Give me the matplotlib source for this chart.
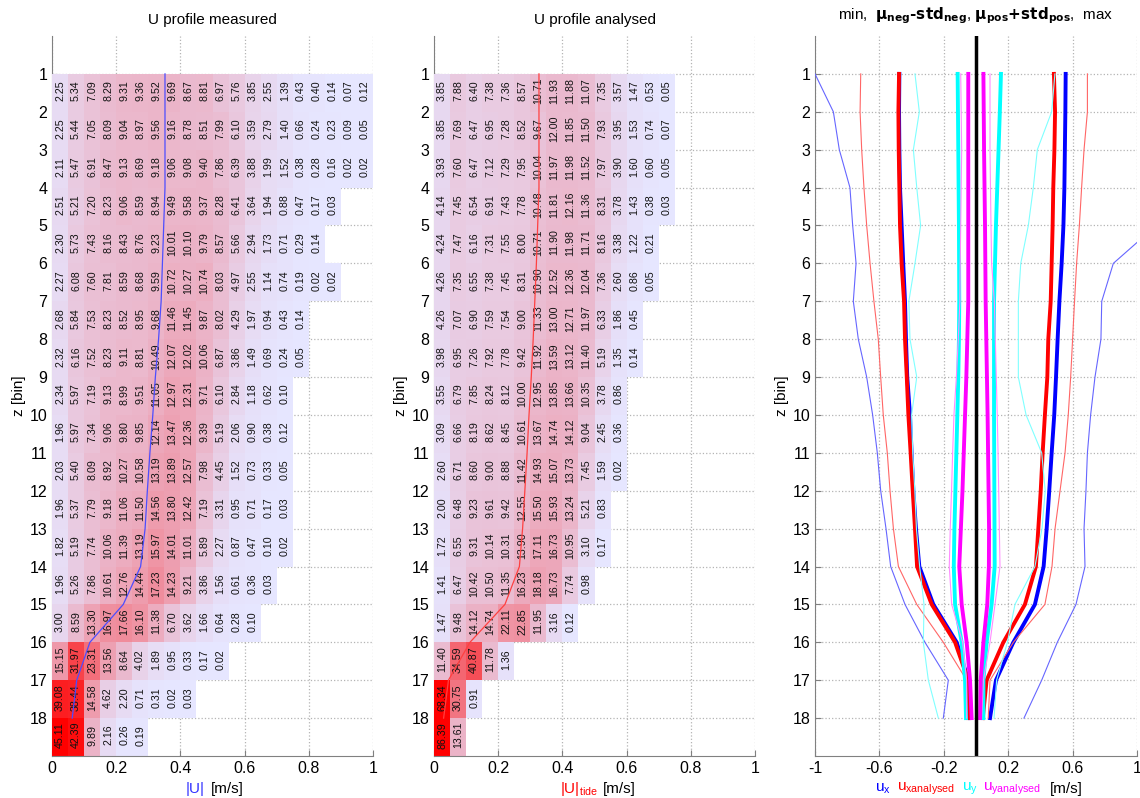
import matplotlib
matplotlib.use("Agg")
import matplotlib.pyplot as plt
import numpy as np
from matplotlib.colors import LinearSegmentedColormap

plt.rcParams["font.family"] = ["Liberation Sans", "DejaVu Sans"]

z_bins = np.arange(1, 19)
speed_edges = np.arange(0, 1.0001, 0.05)

# percentage of samples per |U| class (0.05 m/s) for each depth bin
pct_measured = [
    [2.25, 5.34, 7.09, 8.29, 9.31, 9.36, 9.52, 9.69, 8.67, 8.81, 6.97, 5.76, 3.85, 2.55, 1.39, 0.43, 0.40, 0.14, 0.07, 0.12],
    [2.25, 5.44, 7.05, 8.09, 9.04, 8.97, 9.56, 9.16, 8.78, 8.51, 7.99, 6.10, 3.59, 2.79, 1.40, 0.66, 0.24, 0.23, 0.09, 0.05],
    [2.11, 5.47, 6.91, 8.47, 9.13, 8.69, 9.18, 9.06, 9.08, 9.40, 7.86, 6.39, 3.88, 1.99, 1.52, 0.38, 0.28, 0.16, 0.02, 0.02],
    [2.51, 5.21, 7.20, 8.23, 9.06, 8.59, 8.94, 9.49, 9.58, 9.37, 8.28, 6.41, 3.64, 1.94, 0.88, 0.47, 0.17, 0.03],
    [2.30, 5.73, 7.43, 8.16, 8.43, 8.76, 9.23, 10.01, 10.10, 9.79, 8.57, 5.66, 2.94, 1.73, 0.71, 0.29, 0.14],
    [2.27, 6.08, 7.60, 7.81, 8.59, 8.68, 9.59, 10.72, 10.27, 10.74, 8.03, 4.97, 2.55, 1.14, 0.74, 0.19, 0.02, 0.02],
    [2.68, 5.84, 7.53, 8.23, 8.52, 8.95, 9.68, 11.46, 11.45, 9.87, 8.02, 4.29, 1.97, 0.94, 0.43, 0.14],
    [2.32, 6.16, 7.52, 8.23, 9.11, 8.81, 10.49, 12.07, 12.02, 10.06, 6.87, 3.86, 1.49, 0.69, 0.24, 0.05],
    [2.34, 5.97, 7.19, 9.13, 8.99, 9.51, 11.05, 12.97, 12.31, 9.71, 6.10, 2.84, 1.18, 0.62, 0.10],
    [1.96, 5.97, 7.34, 9.06, 9.80, 9.85, 12.14, 13.47, 12.36, 9.39, 5.19, 2.06, 0.90, 0.38, 0.12],
    [2.03, 5.40, 8.09, 8.92, 10.27, 10.58, 13.19, 13.89, 12.57, 7.98, 4.45, 1.52, 0.73, 0.33, 0.05],
    [1.96, 5.37, 7.79, 9.18, 11.06, 11.50, 14.56, 13.80, 12.42, 7.19, 3.31, 0.95, 0.71, 0.17, 0.03],
    [1.82, 5.19, 7.74, 10.06, 11.39, 13.19, 15.97, 14.01, 11.01, 5.89, 2.27, 0.87, 0.47, 0.10, 0.02],
    [1.96, 5.26, 7.86, 10.61, 12.76, 14.44, 17.23, 14.23, 9.21, 3.86, 1.56, 0.61, 0.36, 0.03],
    [3.00, 8.59, 13.30, 16.97, 17.66, 16.10, 11.38, 6.70, 3.62, 1.66, 0.64, 0.28, 0.10],
    [15.15, 31.97, 23.31, 13.56, 8.64, 4.02, 1.89, 0.95, 0.33, 0.17, 0.02],
    [39.08, 38.44, 14.58, 4.62, 2.20, 0.71, 0.31, 0.02, 0.03],
    [45.11, 42.39, 9.89, 2.16, 0.26, 0.19],
]
pct_analysed = [
    [3.85, 7.88, 6.40, 7.38, 7.36, 8.57, 10.71, 11.93, 11.88, 11.07, 7.35, 3.57, 1.47, 0.53, 0.05],
    [3.85, 7.69, 6.47, 6.95, 7.28, 8.52, 9.67, 12.00, 11.85, 11.50, 7.93, 3.95, 1.53, 0.74, 0.07],
    [3.93, 7.60, 6.47, 7.12, 7.29, 7.95, 10.04, 11.97, 11.98, 11.52, 7.97, 3.90, 1.60, 0.60, 0.05],
    [4.14, 7.45, 6.54, 6.91, 7.43, 7.78, 10.48, 11.81, 12.16, 11.36, 8.31, 3.78, 1.43, 0.38, 0.03],
    [4.24, 7.47, 6.16, 7.31, 7.55, 8.00, 10.71, 11.90, 11.98, 11.71, 8.16, 3.38, 1.22, 0.21],
    [4.26, 7.35, 6.55, 7.38, 7.45, 8.31, 10.90, 12.52, 12.36, 12.04, 7.36, 2.60, 0.86, 0.05],
    [4.26, 7.07, 6.90, 7.59, 7.54, 9.00, 11.33, 13.00, 12.71, 11.97, 6.33, 1.86, 0.45],
    [3.98, 6.95, 7.26, 7.92, 7.78, 9.42, 11.92, 13.59, 13.12, 11.40, 5.19, 1.35, 0.14],
    [3.55, 6.79, 7.85, 8.24, 8.12, 10.00, 12.95, 13.85, 13.66, 10.35, 3.78, 0.86],
    [3.09, 6.66, 8.19, 8.62, 8.45, 10.61, 13.67, 14.74, 14.12, 9.04, 2.45, 0.36],
    [2.60, 6.71, 8.60, 9.00, 8.88, 11.42, 14.93, 15.07, 13.73, 7.45, 1.59, 0.02],
    [2.00, 6.48, 9.23, 9.61, 9.42, 12.55, 15.50, 15.93, 13.24, 5.21, 0.83],
    [1.72, 6.55, 9.31, 10.14, 10.31, 13.90, 17.11, 16.73, 10.95, 3.10, 0.17],
    [1.41, 6.47, 10.42, 10.50, 11.35, 16.23, 18.18, 16.73, 7.74, 0.98],
    [1.47, 9.48, 14.12, 14.74, 22.11, 22.85, 11.95, 3.16, 0.12],
    [11.40, 34.59, 40.87, 11.78, 1.36],
    [68.34, 30.75, 0.91],
    [86.39, 13.61],
]
mean_measured = [0.352, 0.352, 0.352, 0.352, 0.348, 0.344, 0.340, 0.332, 0.322, 0.314,
                 0.305, 0.297, 0.290, 0.276, 0.222, 0.118, 0.077, 0.063]
mean_analysed = [0.327, 0.327, 0.327, 0.327, 0.323, 0.319, 0.314, 0.309, 0.303, 0.296,
                 0.290, 0.283, 0.276, 0.266, 0.221, 0.112, 0.045, 0.030]

# velocity envelopes per bin: min, mu_neg-std_neg, mu_pos+std_pos, max
ux_min = [-1.0, -0.886, -0.849, -0.783, -0.766, -0.745, -0.762, -0.731, -0.679, -0.642,
          -0.613, -0.592, -0.559, -0.530, -0.441, -0.317, -0.172, -0.203]
ux_lo = [-0.476, -0.478, -0.476, -0.472, -0.462, -0.452, -0.441, -0.435, -0.427, -0.410,
         -0.400, -0.389, -0.373, -0.352, -0.265, -0.120, -0.048, -0.037]
ux_hi = [0.557, 0.555, 0.552, 0.549, 0.543, 0.532, 0.518, 0.507, 0.497, 0.486,
         0.470, 0.455, 0.439, 0.420, 0.366, 0.232, 0.124, 0.087]
ux_max = [1.22, 1.20, 1.18, 1.15, 1.12, 0.853, 0.781, 0.776, 0.739, 0.712,
          0.692, 0.683, 0.671, 0.677, 0.621, 0.505, 0.408, 0.298]
uxa_min = [-0.716, -0.720, -0.710, -0.696, -0.679, -0.658, -0.634, -0.607, -0.592, -0.576,
           -0.551, -0.534, -0.513, -0.482, -0.368, -0.203, -0.058, -0.041]
uxa_lo = [-0.478, -0.482, -0.480, -0.476, -0.472, -0.462, -0.447, -0.441, -0.430, -0.420,
          -0.406, -0.393, -0.379, -0.366, -0.275, -0.130, -0.048, -0.048]
uxa_hi = [0.484, 0.491, 0.487, 0.480, 0.476, 0.470, 0.464, 0.449, 0.443, 0.428,
          0.414, 0.402, 0.387, 0.372, 0.304, 0.170, 0.066, 0.042]
uxa_max = [0.692, 0.692, 0.671, 0.656, 0.642, 0.625, 0.612, 0.600, 0.588, 0.573,
           0.553, 0.522, 0.491, 0.472, 0.428, 0.232, 0.087, 0.076]
uy_min = [-0.379, -0.352, -0.389, -0.368, -0.344, -0.379, -0.417, -0.410, -0.368, -0.400,
          -0.393, -0.380, -0.370, -0.350, -0.323, -0.327, -0.296, -0.234]
uy_lo = [-0.114, -0.112, -0.110, -0.108, -0.106, -0.105, -0.104, -0.106, -0.110, -0.116,
         -0.122, -0.128, -0.134, -0.138, -0.130, -0.089, -0.068, -0.062]
uy_hi = [0.155, 0.148, 0.140, 0.132, 0.124, 0.118, 0.112, 0.112, 0.112, 0.112,
         0.113, 0.114, 0.115, 0.116, 0.097, 0.066, 0.046, 0.046]
uy_max = [0.490, 0.470, 0.381, 0.356, 0.325, 0.278, 0.263, 0.263, 0.263, 0.311,
          0.408, 0.430, 0.410, 0.366, 0.242, 0.195, 0.128, 0.112]
uya_min = [-0.095, -0.092, -0.089, -0.092, -0.095, -0.098, -0.100, -0.110, -0.122, -0.137,
           -0.145, -0.152, -0.160, -0.166, -0.151, -0.083, -0.058, -0.058]
uya_lo = [-0.048, -0.048, -0.048, -0.048, -0.048, -0.048, -0.048, -0.054, -0.060, -0.068,
          -0.076, -0.084, -0.094, -0.104, -0.089, -0.058, -0.037, -0.027]
uya_hi = [0.046, 0.048, 0.050, 0.053, 0.056, 0.058, 0.060, 0.064, 0.068, 0.072,
          0.075, 0.078, 0.081, 0.080, 0.070, 0.046, 0.029, 0.025]
uya_max = [0.087, 0.087, 0.087, 0.090, 0.093, 0.097, 0.114, 0.120, 0.126, 0.132,
           0.137, 0.141, 0.145, 0.149, 0.118, 0.087, 0.046, 0.035]

cmap = LinearSegmentedColormap.from_list("lav_red", [(0.9, 0.9, 1.0), (1.0, 0.0, 0.0)])
GRID = "#b4b4b4"
SPINE = "#808080"


def style_axes(ax, xlim, xticks, xticklabels=None):
    ax.set_xlim(*xlim); ax.set_ylim(19, 0)
    ax.set_xticks(xticks)
    if xticklabels is not None:
        ax.set_xticklabels(xticklabels)
    ax.set_yticks(z_bins)
    ax.grid(True, ls=":", color=GRID, lw=0.9)
    ax.set_axisbelow(True)
    for s in ("top", "right"):
        ax.spines[s].set_visible(False)
    for s in ("left", "bottom"):
        ax.spines[s].set_color(SPINE)
    ax.spines["left"].set_zorder(0.8)
    ax.tick_params(direction="in", color=SPINE, labelsize=11.5, length=4)
    ax.set_ylabel("z [bin]", fontsize=11, labelpad=2)


def heat_panel(ax, rows, mean_line, line_color, title, vmax):
    cells = np.full((18, 20), np.nan)
    for k, r in enumerate(rows):
        cells[k, :len(r)] = r
    ax.pcolormesh(speed_edges, np.arange(1, 20), np.ma.masked_invalid(cells), cmap=cmap,
                  vmin=0, vmax=vmax, zorder=1)
    for k, r in enumerate(rows):
        for j, v in enumerate(r):
            ax.text((j + 0.5) * 0.05, k + 1.45, f"{v:.2f}", rotation=90, ha="center", va="center",
                    fontsize=7.7, color="#111111", zorder=3)
    ax.plot(mean_line, z_bins, color=line_color, lw=0.9, zorder=4)
    style_axes(ax, (0, 1), [0, 0.2, 0.4, 0.6, 0.8, 1], ["0", "0.2", "0.4", "0.6", "0.8", "1"])
    ax.set_title(title, fontsize=11, pad=9)


fig = plt.figure(figsize=(11.4, 7.98), dpi=100)
ax1 = fig.add_axes([52 / 1140, 42 / 798, 321 / 1140, 720 / 798])
ax2 = fig.add_axes([434 / 1140, 42 / 798, 321 / 1140, 720 / 798])
ax3 = fig.add_axes([815 / 1140, 42 / 798, 322 / 1140, 720 / 798])

heat_panel(ax1, pct_measured, mean_measured, (0.3, 0.3, 1.0), "U profile measured", 45)
ax1.text(0.445, -0.046, "|U|", color=(0.2, 0.2, 1.0), fontsize=11, ha="center", va="center", transform=ax1.transAxes)
ax1.text(0.545, -0.046, "[m/s]", fontsize=11, ha="center", va="center", transform=ax1.transAxes)

heat_panel(ax2, pct_analysed, mean_analysed, (1.0, 0.25, 0.25), "U profile analysed", 62)
ax2.text(0.393, -0.046, r"$\mathregular{|U|_{tide}}$", color="red", fontsize=11, ha="left", va="center", transform=ax2.transAxes)
ax2.text(0.526, -0.046, "[m/s]", fontsize=11, ha="left", va="center", transform=ax2.transAxes)

# envelope panel: thin = min/max, thick = mu -/+ std
for lo, hi, mn, mx, c, c_thin in [
        (ux_lo, ux_hi, ux_min, ux_max, (0, 0, 1), (0.4, 0.4, 1)),
        (uxa_lo, uxa_hi, uxa_min, uxa_max, (1, 0, 0), (1, 0.4, 0.4)),
        (uy_lo, uy_hi, uy_min, uy_max, (0, 1, 1), (0.5, 1, 1)),
        (uya_lo, uya_hi, uya_min, uya_max, (1, 0, 1), (1, 0.55, 1))]:
    ax3.plot(mn, z_bins, color=c_thin, lw=0.8)
    ax3.plot(mx, z_bins, color=c_thin, lw=0.8)
    ax3.plot(lo, z_bins, color=c, lw=2.8)
    ax3.plot(hi, z_bins, color=c, lw=2.8)
ax3.axvline(0, color="black", lw=2.5)
style_axes(ax3, (-1, 1), [-1, -0.6, -0.2, 0.2, 0.6, 1], ["-1", "-0.6", "-0.2", "0.2", "0.6", "1"])
ax3.set_title("min,  $\\mathbf{\\mu_{neg}}\\mathbf{\u2010std_{neg}}$, "
              "$\\mathbf{\\mu_{pos}}\\mathbf{+std_{pos}}$,  max", fontsize=11, pad=12)
for xpos, label, col in [(0.186, r"$\mathregular{u_x}$", (0, 0, 1)),
                         (0.255, r"$\mathregular{u_{xanalysed}}$", (1, 0, 0)),
                         (0.457, r"$\mathregular{u_y}$", (0, 1, 1)),
                         (0.522, r"$\mathregular{u_{yanalysed}}$", (1, 0, 1)),
                         (0.73, "[m/s]", "black")]:
    ax3.text(xpos, -0.046, label, color=col, fontsize=11, ha="left", va="center", transform=ax3.transAxes)

fig.savefig("out.png", dpi=100)
